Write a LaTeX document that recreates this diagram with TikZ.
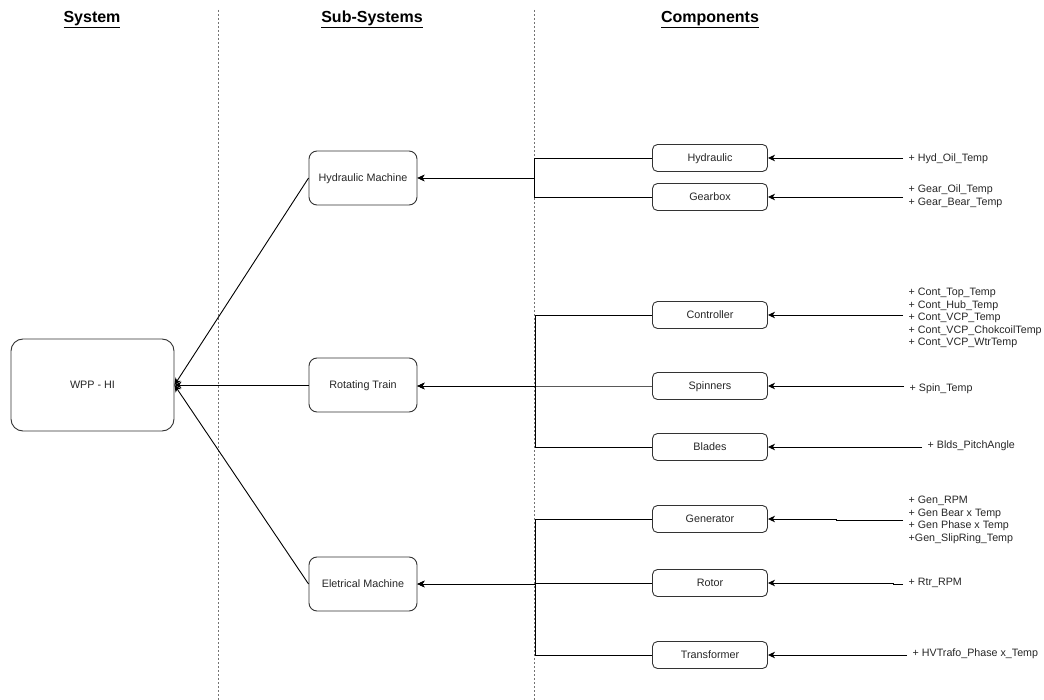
\documentclass[tikz,border=0pt]{standalone}
\usepackage{fontspec}
\setmainfont{Liberation Sans}
\usetikzlibrary{arrows.meta}
\begin{document}
\begin{tikzpicture}[x=1pt,y=-1pt,
  box/.style={draw=black!80, rounded corners=8pt, line width=0.9pt,
    font=\fontsize{10.8}{12.5}\selectfont, text=black!85, inner sep=0pt,
    align=center, text depth=0pt},
  sysbox/.style={box, minimum width=163pt, minimum height=92pt, rounded corners=12pt},
  subbox/.style={box, minimum width=108pt, minimum height=54pt},
  compbox/.style={box, minimum width=115pt, minimum height=27pt, rounded corners=5pt},
  attr/.style={anchor=west, inner xsep=5.5pt, inner ysep=0pt, align=left,
    font=\fontsize{10.7}{12.5}\selectfont, text=black!85, text depth=0pt},
  head/.style={font=\fontsize{16}{18}\selectfont\bfseries, text=black},
  sep/.style={draw=black!55, line width=1pt, dash pattern=on 2pt off 2pt},
  link/.style={draw=black, line width=0.9pt},
  arr/.style={link, -{Stealth[length=7pt,width=6.5pt,inset=2pt]}},
]
\useasboundingbox (0,0) rectangle (1044,700);

% column separators
\draw[sep] (218,10) -- (218,700);
\draw[sep] (534,10) -- (534,700);

% column headings
\node[head] (hsys)  at (92,19.5)  {\underline{System}};
\node[head] (hsub)  at (372,19.5) {\underline{Sub-Systems}};
\node[head] (hcomp) at (710,19.5) {\underline{Components}};

% system
\node[sysbox] (wpp) at (92.5,385) {WPP - HI};

% sub-systems
\node[subbox] (hm) at (363,178) {Hydraulic Machine};
\node[subbox] (rt) at (363,385) {Rotating Train};
\node[subbox] (em) at (363,584) {Eletrical Machine};

% components
\node[compbox] (hyd)    at (710,158) {Hydraulic};
\node[compbox] (gear)   at (710,197) {Gearbox};
\node[compbox] (ctrl)   at (710,315) {Controller};
\node[compbox] (spin)   at (710,386) {Spinners};
\node[compbox] (blades) at (710,447) {Blades};
\node[compbox] (gen)    at (710,519) {Generator};
\node[compbox] (rotor)  at (710,583) {Rotor};
\node[compbox] (trafo)  at (710,655) {Transformer};

% measured variables
\node[attr] (ahyd)    at (903,158) {+ Hyd\_Oil\_Temp};
\node[attr] (agear)   at (903,195) {+ Gear\_Oil\_Temp\\+ Gear\_Bear\_Temp};
\node[attr] (actrl)   at (903,317) {+ Cont\_Top\_Temp\\+ Cont\_Hub\_Temp\\+ Cont\_VCP\_Temp\\+ Cont\_VCP\_ChokcoilTemp\\+ Cont\_VCP\_WtrTemp};
\node[attr] (aspin)   at (904,388) {+ Spin\_Temp};
\node[attr] (ablades) at (922,445) {+ Blds\_PitchAngle};
\node[attr] (agen)    at (903,519) {+ Gen\_RPM\\+ Gen Bear x Temp\\+ Gen Phase x Temp\\+Gen\_SlipRing\_Temp};
\node[attr] (arotor)  at (903,582) {+ Rtr\_RPM};
\node[attr] (atrafo)  at (907,653) {+ HVTrafo\_Phase x\_Temp};

% variables feed components
\draw[arr] (ahyd.west |- hyd) -- (hyd);
\draw[arr] (agear.west |- gear) -- (gear);
\draw[arr] (actrl.west |- ctrl) -- (ctrl);
\draw[arr] (aspin.west |- spin) -- (spin);
\draw[arr] (ablades.west |- blades) -- (blades);
\draw[arr] ([yshift=-1pt]agen.west) -- ++(-67,0) |- (gen);
\draw[arr] ([yshift=-2pt]arotor.west) -- ++(-10,0) |- (rotor);
\draw[arr] (atrafo.west |- trafo) -- (trafo);

% junctions on the separator
\coordinate (jh) at (534,178);
\coordinate (jr) at (535,386);
\coordinate (je) at (535,584);

% components feed sub-systems
\draw[arr] (hyd) -| (jh) -- (hm.east |- jh);
\draw[arr] (gear) -| (jh) -- (hm.east |- jh);
\draw[arr] (ctrl) -| (jr) -- (rt.east |- jr);
\draw[arr] (spin) -- (jr) -- (rt.east |- jr);
\draw[arr] (blades) -| (jr) -- (rt.east |- jr);
\draw[arr] (gen) -| (je) -- (em.east |- je);
\draw[arr] (rotor) -| (je) -- (em.east |- je);
\draw[arr] (trafo) -| (je) -- (em.east |- je);

% sub-systems feed the system
\draw[arr] (hm.west) -- (wpp.east);
\draw[arr] (rt) -- (wpp);
\draw[arr] (em.west) -- (wpp.east);
\end{tikzpicture}
\end{document}
